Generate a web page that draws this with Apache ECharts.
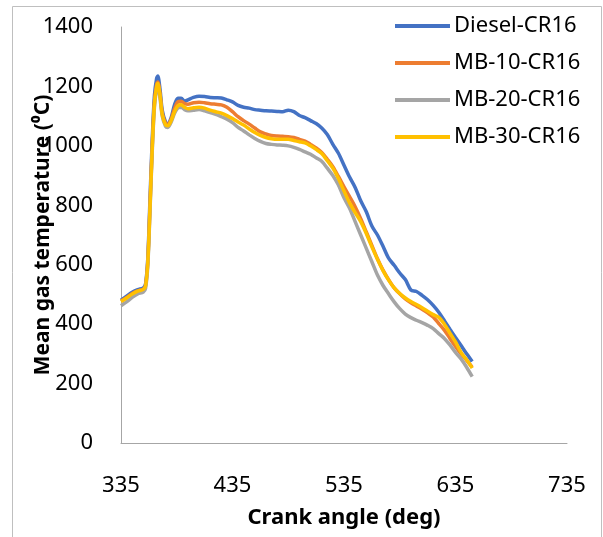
<!DOCTYPE html>
<html>
<head>
<meta charset="utf-8">
<script src="https://cdn.jsdelivr.net/npm/echarts@6/dist/echarts.min.js"></script>
<style>
  html, body { margin: 0; padding: 0; background: #fff; }
  #container { width: 603px; height: 537px; }
</style>
</head>
<body>
<div id="container"></div>
<script>
// crank angle (deg), shared by all series
const angles = [335, 340, 345, 350, 355, 357, 359, 361, 363, 365, 367, 368, 370, 372, 375, 377, 380, 383, 386, 389, 392, 395,
  400, 405, 410, 415, 420, 425, 430, 435, 440, 445, 450, 455, 460, 465, 470, 475, 480, 485, 490, 495,
  500, 505, 510, 515, 520, 525, 530, 535, 540, 545, 550, 555, 560, 565, 570, 575, 580, 585, 590, 595,
  600, 605, 610, 615, 620, 625, 630, 635, 640, 645, 650];

const diesel = [481, 494, 507, 516, 522, 535, 620, 820, 1020, 1170, 1228, 1235, 1190, 1120, 1080, 1074, 1095, 1138, 1160, 1160, 1150, 1155,
  1163, 1167, 1166, 1163, 1162, 1161, 1155, 1148, 1136, 1130, 1127, 1122, 1120, 1118, 1117, 1116, 1115, 1120, 1115, 1102,
  1095, 1085, 1075, 1060, 1038, 1005, 975, 935, 895, 860, 815, 778, 730, 700, 662, 622, 598, 572, 550, 515,
  510, 497, 482, 463, 440, 412, 383, 355, 328, 300, 274];

const mb10 = [478, 490, 503, 512, 518, 530, 610, 800, 1000, 1150, 1208, 1215, 1175, 1110, 1075, 1072, 1090, 1125, 1148, 1150, 1142, 1140,
  1145, 1147, 1145, 1142, 1140, 1138, 1130, 1115, 1098, 1085, 1073, 1060, 1047, 1040, 1035, 1033, 1032, 1031, 1028, 1022,
  1016, 1005, 993, 978, 955, 930, 897, 862, 829, 795, 755, 710, 665, 620, 582, 550, 522, 502, 485, 472,
  461, 450, 438, 424, 402, 380, 352, 325, 300, 278, 255];

const mb20 = [462, 475, 490, 502, 508, 520, 595, 780, 980, 1130, 1195, 1203, 1160, 1100, 1065, 1062, 1080, 1110, 1128, 1130, 1122, 1118,
  1120, 1122, 1118, 1112, 1106, 1098, 1090, 1078, 1062, 1050, 1037, 1025, 1015, 1008, 1005, 1003, 1002, 1000, 995, 988,
  980, 972, 960, 948, 925, 900, 868, 825, 790, 745, 700, 655, 610, 565, 530, 502, 475, 452, 434, 422,
  413, 405, 396, 385, 368, 352, 330, 305, 283, 255, 223];

const mb30 = [476, 488, 501, 511, 517, 528, 605, 790, 990, 1140, 1200, 1210, 1170, 1105, 1070, 1068, 1085, 1115, 1135, 1138, 1130, 1125,
  1128, 1130, 1127, 1120, 1115, 1110, 1102, 1092, 1080, 1070, 1057, 1045, 1035, 1028, 1024, 1022, 1022, 1022, 1018, 1014,
  1010, 1000, 988, 974, 950, 925, 890, 848, 808, 775, 745, 705, 660, 618, 580, 548, 522, 503, 488, 476,
  466, 455, 443, 432, 423, 400, 370, 340, 305, 280, 252];

const seriesNames = ['Diesel-CR16', 'MB-10-CR16', 'MB-20-CR16', 'MB-30-CR16'];
const seriesColors = ['#4472C4', '#ED7D31', '#A5A5A5', '#FFC000'];
const seriesValues = [diesel, mb10, mb20, mb30];

const font = '"Noto Sans", "Liberation Sans", sans-serif';

let chart = echarts.init(document.getElementById('container'));

let option = {
  animation: false,
  backgroundColor: '#fff',
  grid: {
    left: 121,
    right: 36,
    top: 27,
    bottom: 94
  },
  legend: {
    orient: 'vertical',
    left: 390,
    top: 10,
    icon: 'rect',
    itemWidth: 55,
    itemHeight: 4,
    itemGap: 15,
    textStyle: { fontFamily: font, fontSize: 22, lineHeight: 20, color: '#000', padding: [0, 0, 0, -1] },
    data: seriesNames
  },
  xAxis: {
    type: 'value',
    min: 335,
    max: 735,
    interval: 100,
    name: 'Crank angle (deg)',
    nameLocation: 'middle',
    nameGap: 64,
    nameMoveOverlap: false,
    nameTextStyle: { fontFamily: font, fontSize: 22, fontWeight: 'bold', color: '#000' },
    axisLine: { show: true, lineStyle: { color: '#a6a6a6', width: 1 } },
    axisTick: { show: false },
    splitLine: { show: false },
    axisLabel: { margin: 32, fontFamily: font, fontSize: 22, color: '#000' }
  },
  yAxis: {
    type: 'value',
    min: 0,
    max: 1400,
    interval: 200,
    name: 'Mean gas temperature (⁰C)',
    nameLocation: 'middle',
    nameGap: 67,
    nameMoveOverlap: false,
    nameTextStyle: { fontFamily: font, fontSize: 21, fontWeight: 'bold', color: '#000' },
    axisLine: { show: true, lineStyle: { color: '#a6a6a6', width: 1 } },
    axisTick: { show: false },
    splitLine: { show: false },
    axisLabel: {
      margin: 28, fontFamily: font, fontSize: 22, color: '#000',
      formatter: function (v) { return String(v); }
    }
  },
  graphic: [{
    type: 'rect',
    shape: { x: 12.5, y: 6.5, width: 589, height: 545 },
    style: { fill: 'none', stroke: '#bfbfbf', lineWidth: 1 },
    silent: true
  }],
  series: seriesNames.map(function (name, k) {
    return {
      name: name,
      type: 'line',
      showSymbol: false,
      symbol: 'none',
      smooth: 0.3,
      color: seriesColors[k],
      lineStyle: { width: 3.5, color: seriesColors[k] },
      data: angles.map(function (a, i) { return [a, seriesValues[k][i]]; })
    };
  })
};

chart.setOption(option);
</script>
</body>
</html>
